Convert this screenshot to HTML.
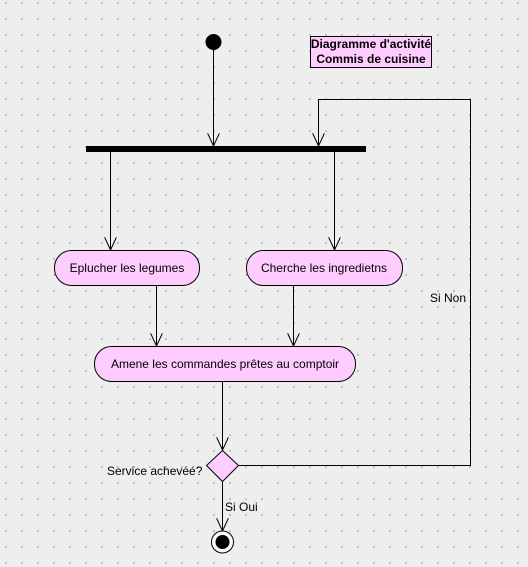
<!DOCTYPE html>
<html><head><meta charset="utf-8"><style>
body{margin:0;width:528px;height:567px;overflow:hidden;background:#eeeeee;
background-image:radial-gradient(circle,#b8b8b8 0.9px,transparent 1.2px);background-size:16px 16px;background-position:-2px -5px;}
svg{position:absolute;left:0;top:0}
text{font-family:"Liberation Sans",sans-serif;font-size:12px;fill:#000}
</style></head><body>
<svg width="528" height="567" xmlns="http://www.w3.org/2000/svg">
<defs><marker id="a" markerWidth="14" markerHeight="12" refX="13" refY="6" orient="auto" markerUnits="userSpaceOnUse"><path d="M0,0 L13,6 L0,12" fill="none" stroke="#000"/></marker></defs>
<g stroke="#000" stroke-width="1" fill="none">
<line x1="213.5" y1="42" x2="213.5" y2="146" marker-end="url(#a)"/>
<polyline points="238,465.5 470.5,465.5 470.5,99.5 318.5,99.5 318.5,146" marker-end="url(#a)"/>
<line x1="110.5" y1="152" x2="110.5" y2="250" marker-end="url(#a)"/>
<line x1="334.5" y1="152" x2="334.5" y2="250" marker-end="url(#a)"/>
<line x1="156.5" y1="285" x2="156.5" y2="346" marker-end="url(#a)"/>
<line x1="293.5" y1="285" x2="293.5" y2="346" marker-end="url(#a)"/>
<line x1="222.5" y1="381" x2="222.5" y2="450" marker-end="url(#a)"/>
<line x1="222.5" y1="480" x2="222.5" y2="531" marker-end="url(#a)"/>
</g>
<circle cx="213.5" cy="42" r="8" fill="#000"/>
<rect x="86" y="146" width="280" height="6" fill="#000"/>
<rect x="310.5" y="36.5" width="121" height="31" fill="#ffccff" stroke="#000"/>
<text x="371" y="48" text-anchor="middle" font-weight="bold">Diagramme d'activité</text>
<text x="371" y="63" text-anchor="middle" font-weight="bold">Commis de cuisine</text>
<rect x="54.5" y="250.5" width="145" height="35" rx="17" fill="#ffccff" stroke="#000"/>
<text x="127" y="272" text-anchor="middle">Eplucher les legumes</text>
<rect x="246.5" y="250.5" width="156" height="35" rx="17" fill="#ffccff" stroke="#000"/>
<text x="324" y="272" text-anchor="middle">Cherche les ingredietns</text>
<rect x="94.5" y="346.5" width="261" height="35" rx="17" fill="#ffccff" stroke="#000"/>
<text x="225" y="368" text-anchor="middle">Amene les commandes prêtes au comptoir</text>
<polygon points="222.5,450.5 238.5,465.5 222.5,481.5 206.5,465.5" fill="#ffccff" stroke="#000"/>
<text x="107" y="475">Service achevéé?</text>
<text x="225" y="511">Si Oui</text>
<text x="430" y="302">Si Non</text>
<circle cx="222.5" cy="542" r="11" fill="#fff" stroke="#000"/>
<circle cx="222.5" cy="542" r="7" fill="#000"/>
</svg>
</body></html>
